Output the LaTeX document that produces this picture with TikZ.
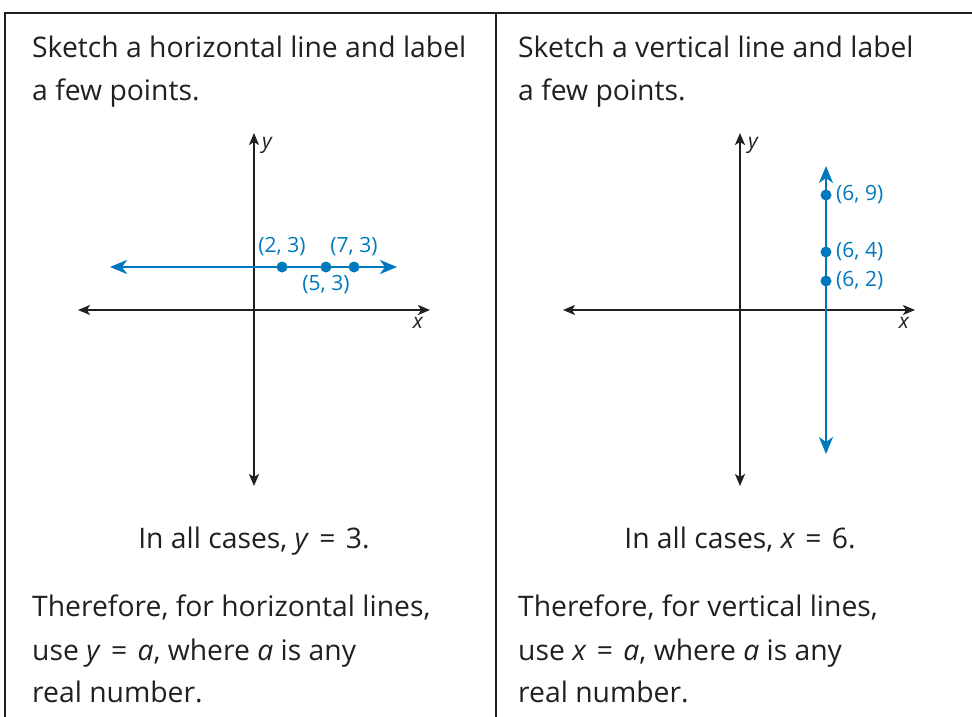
\documentclass[tikz,border=0pt]{standalone}
\usepackage{fontspec}
\setmainfont{Open Sans}
\usetikzlibrary{arrows.meta}
\definecolor{blu}{RGB}{0,120,190}
\definecolor{ink}{RGB}{35,31,32}
\newcommand{\eqs}{\ \hspace{3pt}=\hspace{3pt}\ }
\tikzset{
  frame/.style={draw=ink, line width=1.3pt},
  axis/.style={draw=ink, line width=1.8pt, {Stealth[length=12pt,width=10pt,inset=3pt]}-{Stealth[length=12pt,width=10pt,inset=3pt]}},
  bline/.style={draw=blu, line width=2.4pt, {Stealth[length=17pt,width=14pt,inset=5pt]}-{Stealth[length=17pt,width=14pt,inset=5pt]}},
  dot/.style={circle, fill=blu, inner sep=0pt, minimum size=11pt},
  body/.style={font=\fontsize{28.3}{34}\selectfont, text=ink, inner sep=0pt},
  lab/.style={font=\fontsize{21}{24}\selectfont, text=blu, inner sep=0pt},
  axlab/.style={font=\fontsize{21}{24}\selectfont\itshape, text=ink, inner sep=0pt},
}
\begin{document}
\begin{tikzpicture}[x=1pt,y=-1pt]
\useasboundingbox (0,0) rectangle (972,717);
% frame
\draw[frame] (5,717) -- (5,13) -- (972,13);
\draw[frame] (496,13) -- (496,717);
% top texts
\node[body, anchor=base west] (t1) at (32,58) {Sketch a horizontal line and label};
\node[body, anchor=base west] (t2) at (32,100) {a few points.};
\node[body, anchor=base west] (t3) at (518,58) {Sketch a vertical line and label};
\node[body, anchor=base west] (t4) at (518,100) {a few points.};
% left graph
\coordinate (lxl) at (78,310); \coordinate (lxr) at (430,310);
\coordinate (lyt) at (254,133); \coordinate (lyb) at (254,486);
\draw[axis] (lxl) -- (lxr);
\draw[axis] (lyb) -- (lyt);
\node[axlab, anchor=west] (ly) at (262,145) {y};
\node[axlab] (lx) at (418,323) {x};
\coordinate (bl) at (110,267); \coordinate (br) at (397,267);
\draw[bline] (bl) -- (br);
\node[dot] (p1) at (282,267) {};
\node[dot] (p2) at (326,267) {};
\node[dot] (p3) at (354,267) {};
\node[lab] (l1) at (282,247) {(2, 3)};
\node[lab] (l2) at (354,247) {(7, 3)};
\node[lab] (l3) at (326,285) {(5, 3)};
% right graph
\coordinate (rxl) at (563,310); \coordinate (rxr) at (915,310);
\coordinate (ryt) at (740,133); \coordinate (ryb) at (740,486);
\draw[axis] (rxl) -- (rxr);
\draw[axis] (ryb) -- (ryt);
\node[axlab, anchor=west] (ry) at (748,145) {y};
\node[axlab] (rx) at (904,323) {x};
\coordinate (vt) at (826,166); \coordinate (vb) at (826,454);
\draw[bline] (vb) -- (vt);
\node[dot] (q1) at (826,195) {};
\node[dot] (q2) at (826,252) {};
\node[dot] (q3) at (826,281) {};
\node[lab, anchor=west] (m1) at (836,195) {(6, 9)};
\node[lab, anchor=west] (m2) at (836,252) {(6, 4)};
\node[lab, anchor=west] (m3) at (836,281) {(6, 2)};
% bottom texts
\node[body, anchor=base] (c1) at (254,548) {In all cases, \textit{y}\eqs 3.};
\node[body, anchor=base] (c2) at (740,548) {In all cases, \textit{x}\eqs 6.};
\node[body, anchor=base west] (b1) at (32,616) {Therefore, for horizontal lines,};
\node[body, anchor=base west] (b2) at (32,660) {use \textit{y}\eqs\textit{a}, where \textit{a} is any};
\node[body, anchor=base west] (b3) at (32,702) {real number.};
\node[body, anchor=base west] (b4) at (518,616) {Therefore, for vertical lines,};
\node[body, anchor=base west] (b5) at (518,660) {use \textit{x}\eqs\textit{a}, where \textit{a} is any};
\node[body, anchor=base west] (b6) at (518,702) {real number.};
\end{tikzpicture}
\end{document}
